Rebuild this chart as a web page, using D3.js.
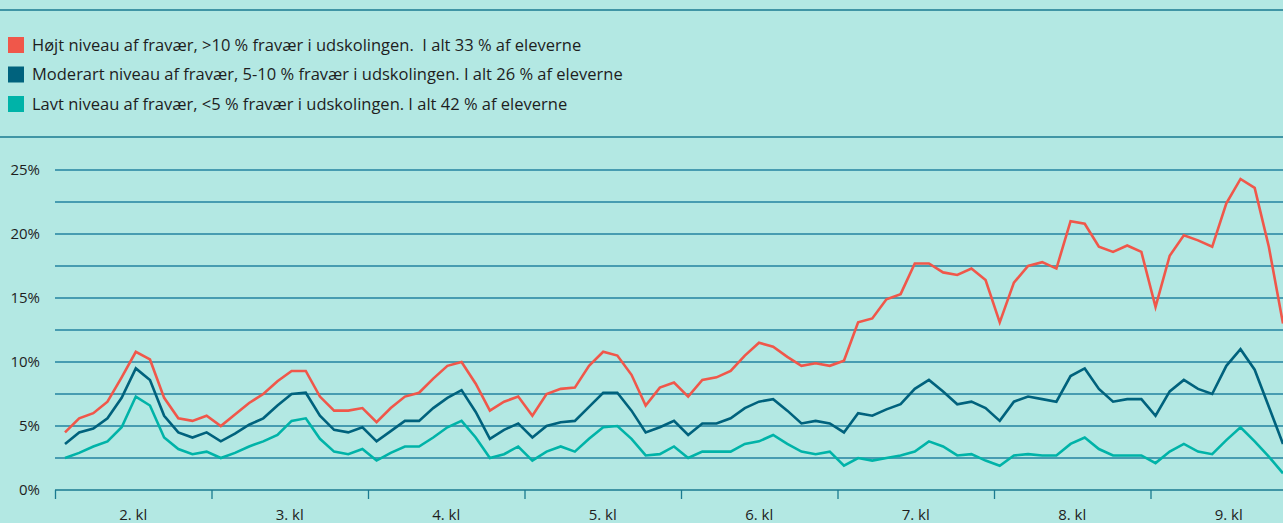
<!DOCTYPE html>
<html>
<head>
    <meta charset="utf-8">
    <title>Fravær</title>
    <script src="https://d3js.org/d3.v7.min.js"></script>
    <style>
        body { margin: 0; background: #b3e8e3; }
        svg { display: block; font-family: "Open Sans", sans-serif; }
    </style>
</head>
<body>
    <div id="chart"></div>
    <script>
        const width = 1283, height = 523;

        // grades on the x axis
        const grades = ["2. kl", "3. kl", "4. kl", "5. kl", "6. kl", "7. kl", "8. kl", "9. kl"];
        const yTicks = [0, 5, 10, 15, 20, 25];

        const legendLabels = [
            "Højt niveau af fravær, >10 % fravær i udskolingen.  I alt 33 % af eleverne",
            "Moderart niveau af fravær, 5-10 % fravær i udskolingen. I alt 26 % af eleverne",
            "Lavt niveau af fravær, <5 % fravær i udskolingen. I alt 42 % af eleverne"
        ];
        const colors = ["#f0574a", "#00627d", "#00b3a8"];

        // monthly absence (%), 11 points per grade
        const high = [4.5, 5.6, 6.0, 6.9, 8.8, 10.8, 10.2, 7.2, 5.6, 5.4, 5.8,
            5.0, 5.9, 6.8, 7.5, 8.5, 9.3, 9.3, 7.3, 6.2, 6.2, 6.4,
            5.3, 6.4, 7.3, 7.6, 8.7, 9.7, 10.0, 8.3, 6.2, 6.9, 7.3,
            5.8, 7.5, 7.9, 8.0, 9.7, 10.8, 10.5, 9.0, 6.6, 8.0, 8.4,
            7.3, 8.6, 8.8, 9.3, 10.5, 11.5, 11.2, 10.4, 9.7, 9.9, 9.7,
            10.1, 13.1, 13.4, 14.9, 15.3, 17.7, 17.7, 17.0, 16.8, 17.3, 16.4,
            13.1, 16.2, 17.5, 17.8, 17.3, 21.0, 20.8, 19.0, 18.6, 19.1, 18.6,
            14.3, 18.3, 19.9, 19.5, 19.0, 22.4, 24.3, 23.6, 19.0, 13.0];
        const moderate = [3.6, 4.5, 4.8, 5.6, 7.2, 9.5, 8.6, 5.8, 4.5, 4.1, 4.5,
            3.8, 4.4, 5.1, 5.6, 6.6, 7.5, 7.6, 5.8, 4.7, 4.5, 4.9,
            3.8, 4.6, 5.4, 5.4, 6.4, 7.2, 7.8, 6.1, 4.0, 4.7, 5.2,
            4.1, 5.0, 5.3, 5.4, 6.5, 7.6, 7.6, 6.2, 4.5, 4.9, 5.4,
            4.3, 5.2, 5.2, 5.6, 6.4, 6.9, 7.1, 6.2, 5.2, 5.4, 5.2,
            4.5, 6.0, 5.8, 6.3, 6.7, 7.9, 8.6, 7.7, 6.7, 6.9, 6.4,
            5.4, 6.9, 7.3, 7.1, 6.9, 8.9, 9.5, 7.9, 6.9, 7.1, 7.1,
            5.8, 7.7, 8.6, 7.9, 7.5, 9.7, 11.0, 9.4, 6.5, 3.6];
        const low = [2.5, 2.9, 3.4, 3.8, 4.9, 7.3, 6.6, 4.1, 3.2, 2.8, 3.0,
            2.5, 2.9, 3.4, 3.8, 4.3, 5.4, 5.6, 4.0, 3.0, 2.8, 3.2,
            2.3, 2.9, 3.4, 3.4, 4.1, 4.9, 5.4, 4.1, 2.5, 2.8, 3.4,
            2.3, 3.0, 3.4, 3.0, 4.0, 4.9, 5.0, 4.0, 2.7, 2.8, 3.4,
            2.5, 3.0, 3.0, 3.0, 3.6, 3.8, 4.3, 3.6, 3.0, 2.8, 3.0,
            1.9, 2.5, 2.3, 2.5, 2.7, 3.0, 3.8, 3.4, 2.7, 2.8, 2.3,
            1.9, 2.7, 2.8, 2.7, 2.7, 3.6, 4.1, 3.2, 2.7, 2.7, 2.7,
            2.1, 3.0, 3.6, 3.0, 2.8, 3.9, 4.9, 3.8, 2.6, 1.3];
        const series = [high, moderate, low];

        const svg = d3.select("#chart").append("svg")
            .attr("width", width)
            .attr("height", height);

        svg.append("rect")
            .attr("width", width).attr("height", height)
            .attr("fill", "#b3e8e3");

        // separator lines round the legend
        [10, 137].forEach(y => {
            svg.append("line")
                .attr("x1", 0).attr("x2", width)
                .attr("y1", y).attr("y2", y)
                .attr("stroke", "#1a7a90")
                .attr("stroke-width", 1.3);
        });

        // legend
        const legend = svg.append("g").attr("transform", "translate(8,37)");
        legendLabels.forEach((label, i) => {
            const row = legend.append("g").attr("transform", `translate(0,${i * 29.5})`);
            row.append("rect")
                .attr("width", 16).attr("height", 16)
                .attr("fill", colors[i]);
            row.append("text")
                .attr("x", 24).attr("y", 13.5)
                .style("font-size", "16.5px")
                .style("white-space", "pre")
                .attr("fill", "#1e1e1e")
                .text(label);
        });

        const plotLeft = 55;
        const gradeWidth = 156.5;

        const yScale = d3.scaleLinear().domain([0, 25]).range([490, 170]);
        const gradeScale = d3.scaleLinear().domain([0, grades.length]).range([plotLeft, plotLeft + gradeWidth * grades.length]);
        const xScale = d3.scaleLinear().domain([0, high.length - 1]).range([65, 1283]);

        // horizontal grid every 2.5 %
        svg.append("g")
            .selectAll("line")
            .data(d3.range(2.5, 25.1, 2.5))
            .join("line")
            .attr("x1", plotLeft).attr("x2", width)
            .attr("y1", d => yScale(d)).attr("y2", d => yScale(d))
            .attr("stroke", "#2383a0")
            .attr("stroke-width", 1.3);

        // y axis labels
        svg.append("g")
            .call(d3.axisLeft(yScale).tickValues(yTicks).tickFormat(d => d + "%").tickSize(0))
            .attr("transform", "translate(40,0)")
            .call(g => g.select(".domain").remove())
            .call(g => g.selectAll("text")
                .attr("x", 0)
                .style("font-family", "Open Sans, sans-serif")
                .style("font-size", "15px")
                .attr("fill", "#1e1e1e"));

        // x axis: ticks at grade boundaries
        const xAxis = svg.append("g")
            .attr("transform", `translate(0,${yScale(0)})`)
            .call(d3.axisBottom(gradeScale).tickValues(d3.range(0, grades.length + 1)).tickFormat("").tickSize(9).tickSizeOuter(0));
        xAxis.select(".domain")
            .attr("d", `M${plotLeft},0H${width}`)
            .attr("stroke", "#1a7a90")
            .attr("stroke-width", 1.3);
        xAxis.selectAll(".tick line").attr("stroke", "#1a7a90").attr("stroke-width", 1.3);

        svg.append("g")
            .selectAll("text")
            .data(grades)
            .join("text")
            .attr("x", (d, i) => gradeScale(i + 0.5))
            .attr("y", 520)
            .attr("text-anchor", "middle")
            .style("font-size", "15px")
            .attr("fill", "#1e1e1e")
            .text(d => d);

        // lines
        const line = d3.line()
            .x((d, i) => xScale(i))
            .y(d => yScale(d));

        svg.append("g")
            .selectAll("path")
            .data(series)
            .join("path")
            .attr("d", line)
            .attr("fill", "none")
            .attr("stroke", (d, i) => colors[i])
            .attr("stroke-width", 2.6)
            .attr("stroke-linejoin", "miter");
    </script>
</body>
</html>
